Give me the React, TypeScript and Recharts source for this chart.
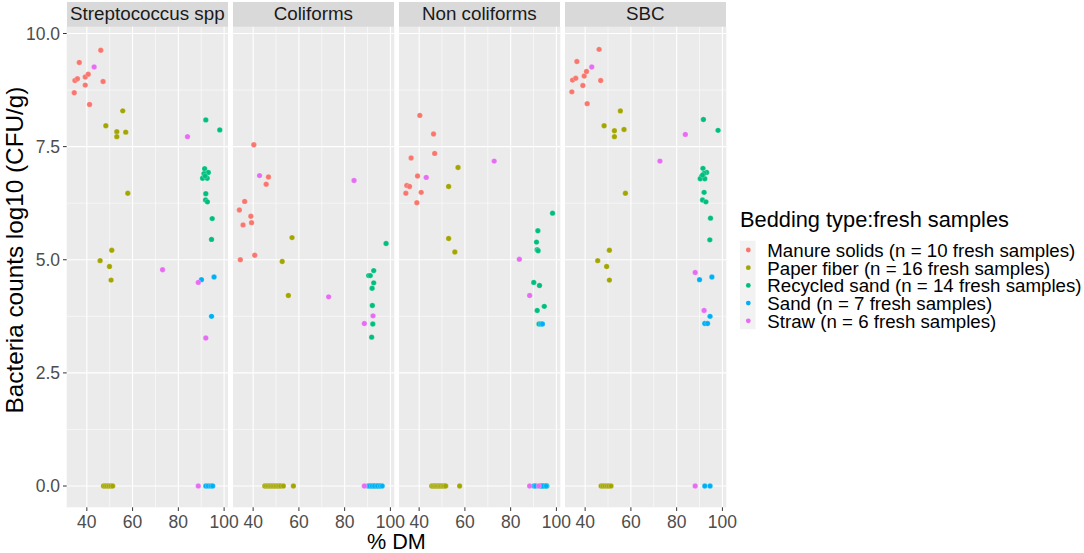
import React from 'react';
import { ScatterChart, Scatter, XAxis, YAxis, CartesianGrid, ReferenceLine } from 'recharts';

type Pt = [number, number];

// ---- categories / labels ----
const FACETS = ['Streptococcus spp', 'Coliforms', 'Non coliforms', 'SBC'];
const BEDDING = [
  'Manure solids (n = 10 fresh samples)',
  'Paper fiber (n = 16 fresh samples)',
  'Recycled sand (n = 14 fresh samples)',
  'Sand (n = 7 fresh samples)',
  'Straw (n = 6 fresh samples)',
];
const COLORS = ['#F8766D', '#A3A500', '#00BF7D', '#00B0F6', '#E76BF3'];
const X_TICKS = [40, 60, 80, 100];
const Y_TICKS = [0, 2.5, 5, 7.5, 10];
const X_MINOR = [50, 70, 90];
const Y_MINOR = [1.25, 3.75, 6.25, 8.75];
const X_DOMAIN = [31.2, 101.7];
const Y_DOMAIN = [-0.47, 10.15];

// ---- data: [% DM, log10 CFU/g] ----
const strepManure: Pt[] = [[46.1, 9.63], [36.7, 9.36], [34.8, 8.96], [35.9, 9.0], [39.3, 9.04], [40.6, 9.1], [39.3, 8.86], [47.1, 8.94], [34.5, 8.69], [41.2, 8.43]];
const strepPaper: Pt[] = [[55.7, 8.29], [48.3, 7.96], [53.1, 7.83], [53.1, 7.72], [57.0, 7.82], [57.9, 6.47], [50.9, 5.21], [45.8, 4.98], [49.9, 4.85], [50.6, 4.55], [47.3, 0], [48.1, 0], [48.9, 0], [49.7, 0], [50.5, 0], [51.3, 0]];
const strepRecycled: Pt[] = [[92.0, 8.09], [98.1, 7.87], [91.5, 7.01], [90.6, 6.8], [92.3, 6.91], [93.1, 6.93], [91.2, 6.9], [92.6, 6.8], [91.7, 6.85], [92.0, 6.46], [91.9, 6.32], [92.7, 6.28], [94.8, 5.91], [94.5, 5.45]];
const strepSand: Pt[] = [[90.1, 4.56], [95.6, 4.62], [94.5, 3.75], [92.0, 0], [93.0, 0], [94.2, 0], [95.0, 0]];
const strepStraw: Pt[] = [[43.2, 9.26], [84.0, 7.72], [73.1, 4.78], [88.7, 4.5], [92.0, 3.27], [88.7, 0]];

const coliManure: Pt[] = [[40.3, 7.54], [46.7, 6.83], [45.7, 6.67], [36.3, 6.29], [34.0, 6.1], [39.0, 5.96], [39.3, 5.82], [35.6, 5.77], [34.4, 5.0], [40.7, 5.1]];
const coliPaper: Pt[] = [[57.0, 5.49], [52.7, 4.96], [55.4, 4.21], [45.1, 0], [45.8, 0], [46.5, 0], [47.2, 0], [47.9, 0], [48.6, 0], [49.3, 0], [50.0, 0], [50.7, 0], [51.4, 0], [52.1, 0], [53.2, 0], [57.6, 0]];
const coliRecycled: Pt[] = [[98.1, 5.36], [92.7, 4.76], [90.5, 4.65], [91.2, 4.65], [92.7, 4.49], [92.0, 4.37], [92.1, 3.99], [92.3, 3.58], [91.8, 3.29], [91.5, 0], [92.5, 0], [93.5, 0], [94.5, 0], [95.2, 0]];
const coliSand: Pt[] = [[90.2, 0], [91.0, 0], [92.0, 0], [93.0, 0], [94.3, 0], [95.5, 0], [96.4, 0]];
const coliStraw: Pt[] = [[42.8, 6.86], [84.1, 6.75], [73.0, 4.18], [92.4, 3.76], [88.6, 3.59], [88.6, 0]];

const nonManure: Pt[] = [[40.3, 8.19], [46.3, 7.78], [46.8, 7.35], [36.5, 7.25], [39.3, 6.85], [34.6, 6.64], [35.8, 6.62], [34.2, 6.47], [40.9, 6.49], [39.0, 6.26]];
const nonPaper: Pt[] = [[57.0, 7.04], [52.9, 6.62], [52.9, 5.47], [55.6, 5.17], [45.5, 0], [46.1, 0], [46.7, 0], [47.3, 0], [47.9, 0], [48.5, 0], [49.1, 0], [49.7, 0], [50.4, 0], [51.0, 0], [51.6, 0], [57.7, 0]];
const nonRecycled: Pt[] = [[98.3, 6.03], [91.9, 5.64], [91.3, 5.39], [91.6, 5.22], [92.0, 5.2], [90.1, 4.5], [92.6, 4.43], [94.7, 3.97], [91.6, 3.88], [92.4, 3.58], [93.5, 0], [94.5, 0], [95.2, 0], [95.8, 0]];
const nonSand: Pt[] = [[93.2, 3.58], [93.9, 3.58], [90.2, 0], [91.0, 0], [93.0, 0], [94.0, 0], [95.5, 0]];
const nonStraw: Pt[] = [[43.1, 6.82], [72.8, 7.18], [83.8, 5.01], [88.3, 4.21], [88.3, 0], [92.3, 0]];

const sbcManure: Pt[] = [[46.1, 9.65], [36.4, 9.38], [34.5, 8.97], [35.9, 9.01], [39.6, 9.06], [40.6, 9.16], [39.0, 8.85], [46.8, 8.96], [34.2, 8.71], [40.9, 8.45]];
const sbcPaper: Pt[] = [[55.4, 8.29], [48.3, 7.96], [52.8, 7.85], [52.8, 7.72], [57.0, 7.88], [57.6, 6.47], [50.6, 5.21], [45.5, 4.98], [49.4, 4.85], [50.6, 4.55], [47.0, 0], [47.8, 0], [48.7, 0], [49.6, 0], [50.4, 0], [51.3, 0]];
const sbcRecycled: Pt[] = [[91.7, 8.1], [98.1, 7.86], [91.5, 7.02], [93.1, 6.93], [92.0, 6.91], [90.9, 6.84], [90.3, 6.79], [92.3, 6.79], [91.3, 6.87], [92.0, 6.49], [91.3, 6.32], [92.8, 6.28], [94.8, 5.92], [94.5, 5.44]];
const sbcSand: Pt[] = [[90.0, 4.56], [95.4, 4.62], [94.6, 3.75], [92.3, 3.59], [93.5, 3.59], [92.3, 0], [94.6, 0]];
const sbcStraw: Pt[] = [[42.9, 9.26], [83.8, 7.77], [72.7, 7.18], [88.1, 4.72], [92.0, 3.88], [88.1, 0]];

const PANEL_DATA: Pt[][][] = [
  [strepManure, strepPaper, strepRecycled, strepSand, strepStraw],
  [coliManure, coliPaper, coliRecycled, coliSand, coliStraw],
  [nonManure, nonPaper, nonRecycled, nonSand, nonStraw],
  [sbcManure, sbcPaper, sbcRecycled, sbcSand, sbcStraw],
];

// ---- layout ----
const FONT = '"Liberation Sans", Arial, Helvetica, sans-serif';
const W = 1084;
const H = 553;
const PANEL_TOP = 26.7;
const PANEL_BOTTOM = 507.3;
const FIRST_LEFT = 66.7;
const PITCH = 166;
const PANEL_W = 161.3;
const PAD = 25;
const STRIP_TOP = 2;

const toRows = (pts: Pt[]) => pts.map(([dm, cfu]) => ({ dm, cfu }));

const makeDot = (color: string) => (props: any) => {
  const { cx, cy } = props;
  if (cx == null || cy == null) return <g />;
  return <circle cx={cx} cy={cy} r={2.7} fill={color} stroke="#ffffff" strokeOpacity={0.35} strokeWidth={0.6} />;
};

function Panel({ index }: { index: number }) {
  const first = index === 0;
  const leftMargin = first ? 0 : PAD;
  const yAxisW = first ? FIRST_LEFT : 0;
  const chartLeft = FIRST_LEFT + index * PITCH - (first ? FIRST_LEFT : PAD);
  const width = (first ? FIRST_LEFT : PAD) + PANEL_W + PAD;
  return (
    <div style={{ position: 'absolute', left: chartLeft, top: 0 }}>
      <ScatterChart
        width={width}
        height={H}
        margin={{ top: PANEL_TOP, right: PAD, bottom: 0, left: leftMargin }}
      >
        <CartesianGrid fill="#EBEBEB" horizontal={false} vertical={false} stroke="none" />
        {Y_MINOR.map((v) => (
          <ReferenceLine key={'ym' + v} y={v} stroke="#FFFFFF" strokeWidth={0.55} />
        ))}
        {X_MINOR.map((v) => (
          <ReferenceLine key={'xm' + v} x={v} stroke="#FFFFFF" strokeWidth={0.55} />
        ))}
        {Y_TICKS.map((v) => (
          <ReferenceLine key={'yM' + v} y={v} stroke="#FFFFFF" strokeWidth={1.1} />
        ))}
        {X_TICKS.map((v) => (
          <ReferenceLine key={'xM' + v} x={v} stroke="#FFFFFF" strokeWidth={1.1} />
        ))}
        <XAxis
          type="number"
          dataKey="dm"
          domain={X_DOMAIN}
          allowDataOverflow
          ticks={X_TICKS}
          interval={0}
          height={H - PANEL_BOTTOM}
          axisLine={false}
          tickLine={{ stroke: '#333333', strokeWidth: 1 }}
          tickSize={3.7}
          tickMargin={5}
          tick={{ fill: '#4D4D4D', fontSize: 17.5, fontFamily: FONT }}
        />
        <YAxis
          type="number"
          dataKey="cfu"
          domain={Y_DOMAIN}
          allowDataOverflow
          ticks={Y_TICKS}
          interval={0}
          width={yAxisW}
          hide={!first}
          axisLine={false}
          tickLine={{ stroke: '#333333', strokeWidth: 1 }}
          tickSize={3.7}
          tickMargin={3}
          tickFormatter={(v: number) => v.toFixed(1)}
          tick={{ fill: '#4D4D4D', fontSize: 17.5, fontFamily: FONT }}
        />
        {PANEL_DATA[index].map((pts, k) => (
          <Scatter
            key={BEDDING[k]}
            name={BEDDING[k]}
            data={toRows(pts)}
            fill={COLORS[k]}
            shape={makeDot(COLORS[k])}
            isAnimationActive={false}
          />
        ))}
      </ScatterChart>
    </div>
  );
}

export default function App() {
  const yTitleX = 22.5;
  const yTitleY = 250;
  return (
    <div
      style={{
        position: 'absolute',
        left: 0,
        top: 0,
        width: W,
        height: H,
        background: '#FFFFFF',
        fontFamily: FONT,
        overflow: 'hidden',
      }}
    >
      {FACETS.map((f, i) => (
        <div
          key={f}
          style={{
            position: 'absolute',
            left: FIRST_LEFT + i * PITCH,
            top: STRIP_TOP,
            width: PANEL_W,
            height: PANEL_TOP - STRIP_TOP,
            background: '#D9D9D9',
            color: '#1A1A1A',
            fontSize: 18.8,
            lineHeight: `${PANEL_TOP - STRIP_TOP}px`,
            textAlign: 'center',
            whiteSpace: 'nowrap',
          }}
        >
          {f}
        </div>
      ))}
      {FACETS.map((f, i) => (
        <Panel key={f} index={i} />
      ))}
      <svg
        width={W}
        height={H}
        style={{ position: 'absolute', left: 0, top: 0, pointerEvents: 'none' }}
      >
        <text
          x={yTitleX}
          y={yTitleY}
          transform={`rotate(-90 ${yTitleX} ${yTitleY})`}
          textAnchor="middle"
          fontSize={24.3}
          fontFamily={FONT}
          fill="#000000"
        >
          Bacteria counts log10 (CFU/g)
        </text>
        <text
          x={FIRST_LEFT + (3 * PITCH + PANEL_W) / 2}
          y={549}
          textAnchor="middle"
          fontSize={21.6}
          fontFamily={FONT}
          fill="#000000"
        >
          % DM
        </text>
        <text x={740} y={226.7} fontSize={21.8} fontFamily={FONT} fill="#000000">
          Bedding type:fresh samples
        </text>
        <rect x={740} y={240.7} width={15.5} height={88.6} fill="#F2F2F2" />
        {BEDDING.map((b, k) => (
          <g key={b}>
            <circle cx={748.3} cy={250 + k * 17.7} r={2.4} fill={COLORS[k]} />
            <text
              x={767.3}
              y={257 + k * 17.7}
              fontSize={18.7}
              fontFamily={FONT}
              fill="#000000"
            >
              {b}
            </text>
          </g>
        ))}
      </svg>
    </div>
  );
}
